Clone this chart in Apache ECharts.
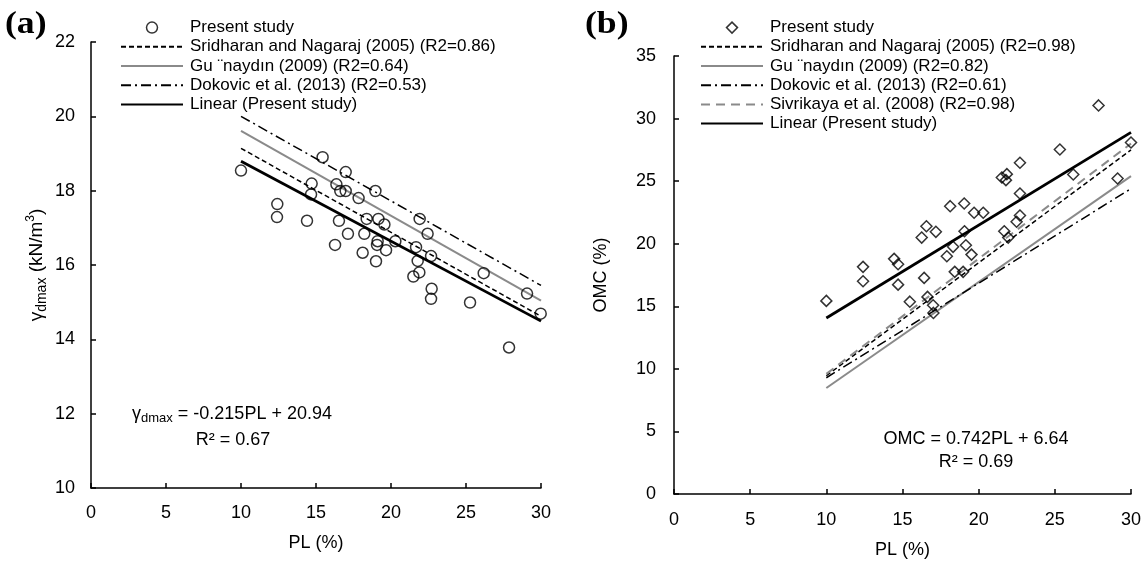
<!DOCTYPE html>
<html><head><meta charset="utf-8">
<script src="https://cdn.jsdelivr.net/npm/echarts@6/dist/echarts.min.js"></script>
<style>html,body{margin:0;padding:0;background:#fff}#c{width:1146px;height:566px}</style>
</head><body><div id="c"></div>
<script>
// ---- data ----
const lineX = [10, 30];
// panel (a): gamma_dmax vs PL
const plA = [10.0,15.44,16.98,14.71,16.36,16.62,16.98,14.67,18.96,17.84,12.42,12.40,14.40,16.53,18.38,19.16,19.56,21.91,17.13,18.22,22.44,19.11,20.29,16.27,19.07,19.67,18.11,21.67,22.67,21.78,19.00,21.89,21.49,26.18,22.71,22.67,25.27,29.07,29.98,27.87];
const gdA = [18.54,18.90,18.50,18.19,18.17,17.99,17.99,17.90,17.99,17.80,17.64,17.29,17.19,17.19,17.24,17.24,17.09,17.24,16.84,16.84,16.84,16.64,16.64,16.54,16.54,16.40,16.33,16.48,16.24,16.11,16.10,15.80,15.69,15.78,15.36,15.09,14.99,15.23,14.69,13.78];
const sridharanA = [19.14, 14.62];
const gunaydinA  = [19.61, 15.04];
const dokovicA   = [20.00, 15.45];
const linearA    = [18.79, 14.49];
// panel (b): OMC vs PL
const plB = [10.0,12.41,12.41,14.45,14.71,14.71,15.48,16.42,16.26,16.57,17.19,16.64,17.01,17.03,17.91,18.13,18.32,18.43,18.98,19.05,19.07,19.16,19.53,19.70,20.30,21.52,21.85,21.79,22.71,22.71,22.71,22.49,21.68,21.94,25.33,26.21,27.87,29.12,30.0];
const omcB = [15.43,18.15,17.0,18.79,18.36,16.73,15.37,17.27,20.49,21.4,20.95,15.75,15.08,14.47,19.0,23.0,19.75,17.75,17.75,23.21,21.0,19.88,19.13,22.47,22.47,25.29,25.56,25.08,26.47,24.01,22.25,21.75,21.0,20.49,27.53,25.53,31.05,25.21,28.09];
const sridharanB = [9.45, 27.5];
const gunaydinB  = [8.47, 25.4];
const dokovicB   = [9.29, 24.4];
const sivrikayaB = [9.60, 28.0];
const linearB    = [14.06, 28.9];

const namesA = ['Present study','Sridharan and Nagaraj (2005) (R2=0.86)','Gu \u00A8naydın (2009) (R2=0.64)','Dokovic et al. (2013) (R2=0.53)','Linear (Present study)'];
const namesB = ['Present study ','Sridharan and Nagaraj (2005) (R2=0.98)','Gu \u00A8naydın (2009) (R2=0.82)','Dokovic et al. (2013) (R2=0.61)','Sivrikaya et al. (2008) (R2=0.98)','Linear (Present study) '];

// ---- helpers ----
const FF = "'Liberation Sans', Arial, sans-serif";
const zip = (xs, ys) => xs.map((x, i) => [x, ys[i]]);
const GRAY = '#8a8a8a';
const DASH = [5, 3], DASHDOT = [10, 4, 2, 4], GDASH = [9, 6];
const DIAMOND = 'path://M0,5 L5,0 L10,5 L5,10 Z';

function xAx(gi, gap, margin) {
  return {type:'value', gridIndex:gi, min:0, max:30, interval:5,
    name:'PL (%)', nameLocation:'middle', nameGap:gap,
    nameTextStyle:{fontSize:18, color:'#000', fontFamily:FF},
    axisLine:{onZero:false, lineStyle:{color:'#000', width:1.5}},
    axisTick:{inside:true, length:5, lineStyle:{color:'#000', width:1.5}},
    axisLabel:{margin:margin, fontSize:18, color:'#000', fontFamily:FF},
    splitLine:{show:false}};
}
function yAx(gi, min, max, interval, name, gap, margin, rich) {
  return {type:'value', gridIndex:gi, min, max, interval,
    name, nameLocation:'middle', nameGap:gap,
    nameTextStyle:{fontSize:18, color:'#000', fontFamily:FF, rich:rich},
    axisLine:{onZero:false, lineStyle:{color:'#000', width:1.5}},
    axisTick:{inside:true, length:5, lineStyle:{color:'#000', width:1.5}},
    axisLabel:{margin:margin, fontSize:18, color:'#000', fontFamily:FF},
    splitLine:{show:false}};
}
function ln(name, gi, ys, color, width, type, z) {
  return {type:'line', name, xAxisIndex:gi, yAxisIndex:gi, data:zip(lineX, ys),
    symbol:'none', showSymbol:false, silent:true, z:z||2,
    itemStyle:{color:color},
    lineStyle:{color, width, type}};
}
function sc(name, gi, xs, ys, symbol) {
  return {type:'scatter', name, xAxisIndex:gi, yAxisIndex:gi, data:zip(xs, ys),
    symbol, symbolSize:11, z:5,
    itemStyle:{color:'rgba(255,255,255,0)', borderColor:'#000', borderWidth:1.5}};
}
function legend(left, top, names, sym) {
  const data = names.map((n, i) => i === 0
    ? {name:n, icon:sym, itemStyle:{color:'rgba(255,255,255,0)', borderColor:'#000', borderWidth:1.5}}
    : {name:n, itemStyle:{opacity:0}});
  return {orient:'vertical', left, top, itemWidth:62, itemHeight:11, itemGap:0,
    symbolKeepAspect:true, selectedMode:false, data,
    textStyle:{fontSize:17, color:'#000', fontFamily:FF, lineHeight:19.2, padding:[0,0,0,2]}};
}

const richName = {
  g:{fontSize:19, fontFamily:FF, color:'#000', lineHeight:24},
  s:{fontSize:14, fontFamily:FF, color:'#000', lineHeight:12, verticalAlign:'bottom'},
  p:{fontSize:12, fontFamily:FF, color:'#000', lineHeight:12, verticalAlign:'top'}
};
const richG = {
  g:{fontSize:18, fontFamily:FF, fill:'#000', lineHeight:22},
  s:{fontSize:13, fontFamily:FF, fill:'#000', lineHeight:10, verticalAlign:'bottom'}
};
const PANEL = "bold 31px 'Liberation Serif', 'Times New Roman', serif";

const chart = echarts.init(document.getElementById('c'), null, {renderer:'canvas'});
chart.setOption({
  animation:false,
  backgroundColor:'#fff',
  grid:[
    {left:91, top:42, width:450, height:446},
    {left:674, top:56, width:457, height:438}
  ],
  xAxis:[xAx(0, 46, 16), xAx(1, 47, 17)],
  yAxis:[
    yAx(0, 10, 22, 2, '{g|γ}{s|dmax}{g| (kN/m}{p|3}{g|)}', 42, 16, richName),
    yAx(1, 0, 35, 5, 'OMC (%)', 64, 18, richName)
  ],
  legend:[legend(115, 13, namesA, 'circle'), legend(695, 13, namesB, DIAMOND)],
  series:[
    sc(namesA[0], 0, plA, gdA, 'circle'),
    ln(namesA[1], 0, sridharanA, '#000', 1.5, DASH),
    ln(namesA[2], 0, gunaydinA, GRAY, 2, 'solid'),
    ln(namesA[3], 0, dokovicA, '#000', 1.5, DASHDOT),
    ln(namesA[4], 0, linearA, '#000', 2.8, 'solid', 3),
    sc(namesB[0], 1, plB, omcB, 'diamond'),
    ln(namesB[1], 1, sridharanB, '#000', 1.5, DASH),
    ln(namesB[2], 1, gunaydinB, GRAY, 2, 'solid'),
    ln(namesB[3], 1, dokovicB, '#000', 1.5, DASHDOT),
    ln(namesB[4], 1, sivrikayaB, GRAY, 2, GDASH),
    ln(namesB[5], 1, linearB, '#000', 2.8, 'solid', 3)
  ],
  graphic:[
    {type:'text', x:5, y:9, scaleX:1.15, style:{text:'(a)', font:PANEL, fill:'#000'}},
    {type:'text', x:585, y:9, scaleX:1.15, style:{text:'(b)', font:PANEL, fill:'#000'}},
    {type:'text', x:232, y:414, style:{text:'{g|γ}{s|dmax}{g| = -0.215PL + 20.94}', rich:richG, align:'center', verticalAlign:'middle'}},
    {type:'text', x:233, y:440, style:{text:'R² = 0.67', fontSize:18, fontFamily:FF, fill:'#000', align:'center', verticalAlign:'middle'}},
    {type:'text', x:976, y:439, style:{text:'OMC = 0.742PL + 6.64', fontSize:18, fontFamily:FF, fill:'#000', align:'center', verticalAlign:'middle'}},
    {type:'text', x:976, y:462, style:{text:'R² = 0.69', fontSize:18, fontFamily:FF, fill:'#000', align:'center', verticalAlign:'middle'}}
  ]
});
</script></body></html>
